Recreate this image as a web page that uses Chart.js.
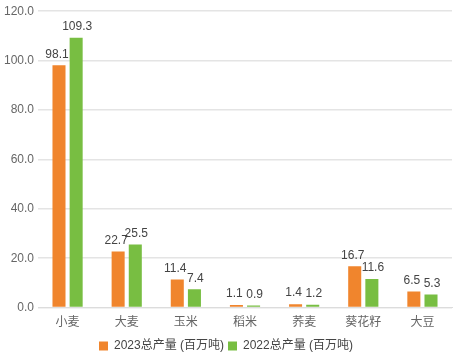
<!DOCTYPE html>
<html><head><meta charset="utf-8">
<script src="https://cdn.jsdelivr.net/npm/chart.js@4/dist/chart.umd.min.js"></script>
<style>html,body{margin:0;padding:0;background:#fff}#w{width:464px;height:356px}</style>
</head><body><div id="w"><canvas id="c" width="464" height="356"></canvas></div>
<script>
const categories = ['小麦','大麦','玉米','稻米','荞麦','葵花籽','大豆'];
const values2023 = [98.1, 22.7, 11.4, 1.1, 1.4, 16.7, 6.5];
const values2022 = [109.3, 25.5, 7.4, 0.9, 1.2, 11.6, 5.3];
const seriesNames = ['2023总产量 (百万吨)', '2022总产量 (百万吨)'];
const yTicks = [0, 20, 40, 60, 80, 100, 120];

const labelPlugin = {
  id: 'barLabels',
  afterDatasetsDraw(chart) {
    const ctx = chart.ctx;
    ctx.save();
    ctx.font = '12px "Liberation Sans", Arial, sans-serif';
    ctx.fillStyle = '#444';
    ctx.textAlign = 'center';
    ctx.textBaseline = 'bottom';
    chart.data.datasets.forEach((ds, i) => {
      chart.getDatasetMeta(i).data.forEach((bar, j) => {
        const off = i === 0 ? -2 : 1;
        ctx.fillText(ds.data[j].toFixed(1), bar.x + off, bar.y - 5);
      });
    });
    ctx.restore();
  }
};

new Chart(document.getElementById('c'), {
  type: 'bar',
  data: {
    labels: categories,
    datasets: [
      { label: seriesNames[0], data: values2023, backgroundColor: '#F0852D', borderColor: '#fff', borderWidth: 0 },
      { label: seriesNames[1], data: values2022, backgroundColor: '#78BE42', borderColor: '#fff', borderWidth: 0 }
    ]
  },
  options: {
    responsive: false,
    animation: false,
    maintainAspectRatio: false,
    layout: { padding: { left: 0, right: 12, top: 4, bottom: -6 } },
    datasets: { bar: { barPercentage: 0.76, categoryPercentage: 0.58 } },
    plugins: {
      legend: {
        position: 'bottom',
        labels: {
          boxWidth: 9, boxHeight: 9, padding: 4, color: '#444',
          font: { family: '"Liberation Sans", "Noto Sans CJK SC", sans-serif', size: 12 }
        }
      },
      tooltip: { enabled: false }
    },
    scales: {
      x: {
        grid: { display: false, drawTicks: false },
        border: { display: true, color: '#dcdcdc' },
        ticks: { color: '#666', padding: 7, font: { family: '"Noto Sans CJK SC", sans-serif', size: 12 } }
      },
      y: {
        min: 0, max: 120,
        afterBuildTicks(s) { s.ticks = yTicks.map(v => ({ value: v })); },
        afterFit(s) { s.width = 38; },
        grid: { color: '#e4e4e4', drawTicks: false, lineWidth: 1.5 },
        border: { display: false },
        ticks: { color: '#666', padding: 4, font: { family: '"Liberation Sans", Arial, sans-serif', size: 12 },
          callback: v => Number(v).toFixed(1) }
      }
    }
  },
  plugins: [labelPlugin]
});
</script></body></html>
